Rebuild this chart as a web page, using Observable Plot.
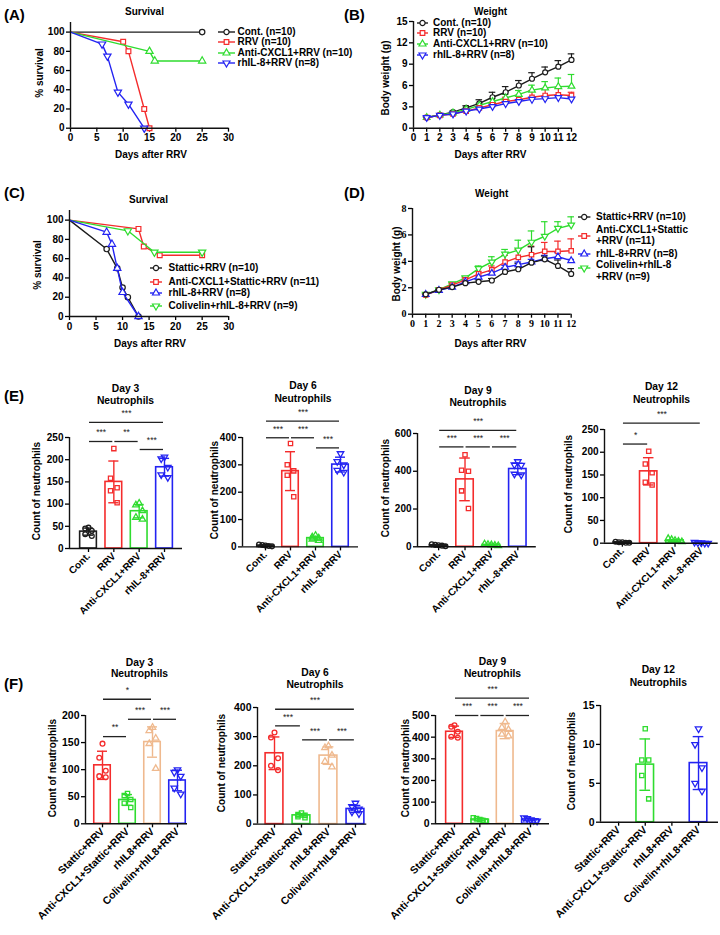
<!DOCTYPE html>
<html><head><meta charset="utf-8">
<script src="https://cdn.jsdelivr.net/npm/d3@7"></script>
<script src="https://cdn.jsdelivr.net/npm/@observablehq/plot@0.6"></script>
<style>
body{margin:0;background:#fff;}
#fig{position:relative;width:720px;height:935px;overflow:hidden;background:#fff;}
#fig svg [aria-label*="axis"] line, #fig svg [aria-label*="axis"] path{stroke-width:1.3px;}
</style></head><body><div id="fig"></div>
<script>
const FONT = '"Liberation Sans", Arial, sans-serif';
const SERIF = '"Liberation Serif", "Times New Roman", serif';
const BLACK = "#1c1c1c", RED = "#f42c2c", GREEN = "#2fdc2f", BLUE = "#2323f2", TAN = "#efb98e";

// ---------- Panel A : survival ----------
const survA_names = ["Cont. (n=10)", "RRV (n=10)", "Anti-CXCL1+RRV (n=10)", "rhIL-8+RRV (n=8)"];
const survA_cont_x = [0, 25],                 survA_cont_y = [100, 100];
const survA_rrv_x  = [0, 10, 11, 14, 15],     survA_rrv_y  = [100, 90, 80, 20, 0];
const survA_anti_x = [0, 15, 16, 25],         survA_anti_y = [100, 80, 70, 70];
const survA_rhil_x = [0, 6, 7, 9, 11, 14],    survA_rhil_y = [100, 87.5, 75, 37.5, 25, 0];
const survTicksX = [0, 5, 10, 15, 20, 25, 30];
const survTicksY = [0, 20, 40, 60, 80, 100];

// ---------- Panel B : weight ----------
const days = [1, 2, 3, 4, 5, 6, 7, 8, 9, 10, 11, 12];
const wB_cont = [1.5, 1.85, 2.25, 2.85, 3.5, 4.35, 5.05, 6.0, 6.95, 7.85, 8.65, 9.6];
const wB_cont_sd = [0.1, 0.1, 0.15, 0.3, 0.5, 0.7, 0.8, 0.7, 0.85, 0.75, 0.85, 0.85];
const wB_rrv = [1.5, 1.8, 2.0, 2.4, 2.85, 3.3, 3.75, 4.0, 4.35, 4.6, 4.7, 4.6];
const wB_rrv_sd = [0.1, 0.1, 0.1, 0.15, 0.2, 0.3, 0.6, 0.6, 0.9, 0.9, 0.95, 0.45];
const wB_anti = [1.5, 1.85, 2.15, 2.65, 3.2, 3.75, 4.25, 4.75, 5.35, 5.65, 5.85, 5.9];
const wB_anti_sd = [0.1, 0.1, 0.15, 0.2, 0.3, 0.4, 0.5, 0.55, 0.7, 0.9, 1.2, 1.65];
const wB_rhil = [1.5, 1.8, 2.0, 2.4, 2.7, 3.05, 3.45, 3.75, 4.05, 4.15, 4.3, 4.1];
const wB_rhil_sd = [0.1, 0.1, 0.1, 0.15, 0.2, 0.2, 0.25, 0.3, 0.3, 0.3, 0.3, 0.3];
const wB_ticksY = [0, 3, 6, 9, 12, 15];

// ---------- Panel C : survival ----------
const survC_names = ["Stattic+RRV (n=10)", "Anti-CXCL1+Stattic+RRV (n=11)", "rhIL-8+RRV (n=8)", "Colivelin+rhIL-8+RRV (n=9)"];
const survC_stat_x = [0, 7, 9, 10, 11, 13],  survC_stat_y = [100, 70, 50, 30, 20, 0];
const survC_anti_x = [0, 13, 14, 17, 25],    survC_anti_y = [100, 90.9, 72.7, 63.6, 63.6];
const survC_rhil_x = [0, 7, 8, 9, 10, 13],   survC_rhil_y = [100, 87.5, 75, 50, 25, 0];
const survC_coli_x = [0, 11, 16, 25],        survC_coli_y = [100, 88.9, 66.7, 66.7];

// ---------- Panel D : weight ----------
const wD_stat = [1.5, 1.85, 2.05, 2.35, 2.45, 2.55, 3.2, 3.4, 3.9, 4.15, 3.65, 3.05];
const wD_stat_sd = [0.05, 0.05, 0.1, 0.1, 0.15, 0.15, 0.3, 0.45, 1.2, 0.25, 0.45, 0.4];
const wD_anti = [1.45, 1.85, 2.2, 2.6, 3.05, 3.35, 3.95, 4.3, 4.5, 4.75, 4.75, 4.8];
const wD_anti_sd = [0.05, 0.05, 0.1, 0.15, 0.2, 0.3, 0.5, 0.6, 0.65, 0.68, 0.78, 0.9];
const wD_rhil = [1.5, 1.8, 2.05, 2.45, 2.8, 3.1, 3.55, 3.75, 3.95, 4.2, 4.35, 4.05];
const wD_rhil_sd = [0.05, 0.05, 0.05, 0.1, 0.1, 0.15, 0.15, 0.2, 0.2, 0.25, 0.3, 0.1];
const wD_coli = [1.5, 1.85, 2.3, 2.75, 3.45, 3.95, 4.55, 4.85, 5.45, 5.9, 6.5, 6.75];
const wD_coli_sd = [0.05, 0.05, 0.1, 0.1, 0.2, 0.4, 0.35, 0.75, 0.85, 1.1, 0.5, 0.62];
const wD_ticksY = [0, 2, 4, 6, 8];

// ---------- Panel E : neutrophils ----------
const catsE = ["Cont.", "RRV", "Anti-CXCL1+RRV", "rhIL-8+RRV"];
const e3_mean = [38, 150, 84, 183], e3_sd = [8, 47, 15, 20];
const e3_pts = [[47, 45, 40, 32, 28], [225, 158, 137, 130, 103], [102, 98, 85, 70, 66], [206, 202, 183, 166, 160]];
const e3_sig = [{a: 0, b: 3, y: 284, l: "***"}, {a: 0, b: 1, y: 241, l: "***"}, {a: 1, b: 2, y: 241, l: "**"}, {a: 2, b: 3, y: 223, l: "***"}];
const e6_mean = [5, 277, 32, 301], e6_sd = [3, 71, 7, 27];
const e6_pts = [[9, 7, 5, 3, 2], [378, 300, 278, 262, 183], [42, 36, 32, 28, 23], [341, 312, 300, 280, 273]];
const e6_sig = [{a: 0, b: 3, y: 460, l: "***"}, {a: 0, b: 1, y: 399, l: "***"}, {a: 1, b: 2, y: 399, l: "***"}, {a: 2, b: 3, y: 362, l: "***"}];
const e9_mean = [8, 357, 10, 412], e9_sd = [3, 113, 4, 30];
const e9_pts = [[13, 10, 8, 6, 3], [487, 405, 400, 296, 203], [15, 12, 10, 8, 5], [451, 434, 432, 385, 381]];
const e9_sig = [{a: 0, b: 3, y: 617, l: "***"}, {a: 0, b: 1, y: 529, l: "***"}, {a: 1, b: 2, y: 529, l: "***"}, {a: 2, b: 3, y: 529, l: "***"}];
const e12_mean = [2, 158, 6, 1], e12_sd = [1, 30, 2, 0.5];
const e12_pts = [[3, 2, 2, 1, 1], [202, 174, 155, 134, 128], [10, 8, 6, 4, 3], [2, 1, 1, 0, 0]];
const e12_sig = [{a: 0, b: 3, y: 264, l: "***"}, {a: 0, b: 1, y: 218, l: "*"}];

// ---------- Panel F : neutrophils ----------
const catsF = ["Stattic+RRV", "Anti-CXCL1+Stattic+RRV", "rhIL8+RRV", "Colivelin+rhIL8+RRV"];
const f3_mean = [108, 44, 151, 80], f3_sd = [26, 10, 28, 19];
const f3_pts = [[148, 122, 98, 88, 86], [56, 52, 45, 38, 30], [178, 172, 158, 148, 102], [100, 95, 88, 66, 55]];
const f3_sig = [{a: 0, b: 2, y: 230, l: "*"}, {a: 0, b: 1, y: 161, l: "**"}, {a: 1, b: 2, y: 193, l: "***"}, {a: 2, b: 3, y: 193, l: "***"}];
const f6_mean = [243, 30, 235, 52], f6_sd = [56, 6, 30, 12];
const f6_pts = [[314, 297, 226, 200, 185], [38, 33, 30, 25, 22], [268, 262, 236, 215, 196], [72, 60, 52, 42, 36]];
const f6_sig = [{a: 0, b: 3, y: 394, l: "***"}, {a: 0, b: 1, y: 337, l: "***"}, {a: 1, b: 2, y: 289, l: "***"}, {a: 2, b: 3, y: 289, l: "***"}];
const f9_mean = [425, 20, 428, 20], f9_sd = [26, 6, 35, 6];
const f9_pts = [[455, 448, 425, 402, 397], [28, 24, 20, 15, 12], [470, 445, 435, 413, 405], [28, 24, 18, 15, 13]];
const f9_sig = [{a: 0, b: 3, y: 580, l: "***"}, {a: 0, b: 1, y: 500, l: "***"}, {a: 1, b: 2, y: 500, l: "***"}, {a: 2, b: 3, y: 500, l: "***"}];
const f12_mean = [null, 7.4, null, 7.6], f12_sd = [null, 3.3, null, 3.4];
const f12_pts = [[], [12, 8, 8, 6, 3], [], [12, 10, 7, 5, 4]];
const f12_sig = [];

// ---------- helpers ----------
const fig = document.getElementById("fig");
const triangleDown = {
  draw(ctx, size) {
    const y = -Math.sqrt(size / (Math.sqrt(3) * 3)), s3 = Math.sqrt(3);
    ctx.moveTo(0, -y * 2); ctx.lineTo(-s3 * y, y); ctx.lineTo(s3 * y, y); ctx.closePath();
  }
};
const SYM = {circle: "circle", square: "square", triangle: "triangle", triangleDown};
const D3SYM = {circle: d3.symbolCircle, square: d3.symbolSquare, triangle: d3.symbolTriangle, triangleDown};

function addText(str, x, y, o = {}) {
  const d = document.createElement("div");
  d.textContent = str;
  const size = o.size || 10, weight = o.weight || "bold", family = o.family || FONT;
  d.style.cssText = `position:absolute;left:${x}px;top:${y}px;font-family:${family};font-weight:${weight};font-size:${size}px;white-space:nowrap;line-height:1;color:#000;`;
  const tx = o.anchor === "start" ? "0" : o.anchor === "end" ? "-100%" : "-50%";
  d.style.transform = o.rotate ? "translate(-50%,-50%) rotate(-90deg)" : `translate(${tx},-50%)`;
  fig.appendChild(d);
}

function plotAt(f, opts, marks) {
  const ml = 40, mr = 20, mt = 50, mb = 115;
  const w = ml + (f.x1 - f.x0) + mr, h = mt + (f.y1 - f.y0) + mb;
  const svg = Plot.plot({
    width: w, height: h, marginLeft: ml, marginRight: mr, marginTop: mt, marginBottom: mb,
    x: opts.x, y: opts.y, color: {type: "identity"},
    style: {background: "transparent", overflow: "visible", fontFamily: opts.family || FONT,
            fontWeight: "bold", fontSize: (opts.fontSize || 10) + "px", color: "#000"},
    marks
  });
  svg.style.position = "absolute";
  svg.style.left = (f.x0 - ml) + "px";
  svg.style.top = (f.y0 - mt) + "px";
  svg.style.maxWidth = "none";
  fig.appendChild(svg);
}

function linePanel(f, o) {
  const marks = [];
  o.series.forEach(s => {
    if (!s.e) return;
    const data = s.x.map((x, i) => ({x, y: s.y[i], e: s.e[i]}));
    marks.push(Plot.ruleX(data, {x: "x", y1: "y", y2: d => d.y + d.e, stroke: s.color, strokeWidth: 1.2}));
    marks.push(Plot.ruleY(data, {x1: d => d.x - o.cap, x2: d => d.x + o.cap, y: d => d.y + d.e, stroke: s.color, strokeWidth: 1.2}));
  });
  o.series.forEach(s => {
    const data = s.x.map((x, i) => ({x, y: s.y[i]}));
    marks.push(Plot.line(data, {x: "x", y: "y", stroke: s.color, strokeWidth: 1.4}));
    marks.push(Plot.dot(data.filter(d => !(o.skipZero && d.x === 0)),
      {x: "x", y: "y", symbol: SYM[s.sym], r: o.r || 2.6, stroke: s.color, fill: "white", strokeWidth: 1.2}));
  });
  marks.push(Plot.ruleX([o.xd[0]], {stroke: "#111", strokeWidth: 1.4}));
  marks.push(Plot.ruleY([o.yd[0]], {stroke: "#111", strokeWidth: 1.4}));
  plotAt(f, {
    family: o.family,
    fontSize: o.fontSize,
    x: {domain: o.xd, ticks: o.xticks, tickSize: 4, tickPadding: 2, label: null},
    y: {domain: o.yd, ticks: o.yticks, tickSize: 4, tickPadding: 2, label: null}
  }, marks);
}

function barPanel(f, o) {
  const n = o.cats.length;
  const bars = o.mean.map((m, i) => ({i, m, sd: o.sd[i], c: o.colors[i]})).filter(d => d.m != null);
  const ymax = o.yd[1];
  const marks = [];
  marks.push(Plot.rect(bars, {x1: d => d.i - 0.33, x2: d => d.i + 0.33, y1: () => 0, y2: "m", fill: "white", stroke: "c", strokeWidth: 1.6}));
  marks.push(Plot.ruleX(bars, {x: "i", y1: d => Math.max(0, d.m - d.sd), y2: d => d.m + d.sd, stroke: "c", strokeWidth: 1.4}));
  const caps = bars.flatMap(d => [{i: d.i, c: d.c, y: d.m + d.sd}, {i: d.i, c: d.c, y: Math.max(0, d.m - d.sd)}]);
  marks.push(Plot.ruleY(caps, {x1: d => d.i - 0.2, x2: d => d.i + 0.2, y: "y", stroke: "c", strokeWidth: 1.4}));
  o.pts.forEach((arr, i) => {
    if (!arr.length) return;
    const small = Math.max(...arr) < ymax * 0.07;
    const pattern = [0, -0.13, 0.13, -0.13, 0.13];
    const data = arr.map((v, k) => ({x: i + (small ? (k - (arr.length - 1) / 2) * 0.13 : pattern[k % 5]), v}));
    marks.push(Plot.dot(data, {x: "x", y: "v", symbol: SYM[o.syms[i]], r: 2.4, stroke: o.colors[i], fill: "none", strokeWidth: 1.3}));
  });
  marks.push(Plot.ruleX([o.xd[0]], {stroke: "#111", strokeWidth: 1.4}));
  marks.push(Plot.ruleY([0], {stroke: "#111", strokeWidth: 1.4}));
  marks.push(Plot.ruleY(o.sig, {x1: d => d.a + 0.04, x2: d => d.b - 0.04, y: "y", stroke: "#222", strokeWidth: 1.3}));
  marks.push(Plot.text(o.sig, {x: d => (d.a + d.b) / 2, y: "y", text: "l", dy: -9, fontSize: 8.5, fontWeight: "normal", fill: "#222"}));
  plotAt(f, {
    fontSize: o.fontSize || 10,
    x: {domain: o.xd, ticks: d3.range(n), tickFormat: i => o.cats[i], tickRotate: -45, tickSize: 4, tickPadding: 2, label: null},
    y: {domain: o.yd, ticks: o.yticks, tickSize: 4, tickPadding: 2, label: null}
  }, marks);
}

function legend(items, lx0, lx1, tx, size) {
  items.forEach(it => {
    const s = document.createElementNS("http://www.w3.org/2000/svg", "svg");
    const w = lx1 - lx0 + 8;
    s.setAttribute("width", w); s.setAttribute("height", 12);
    s.style.cssText = `position:absolute;left:${lx0 - 4}px;top:${it.y - 6}px;overflow:visible;`;
    const ln = document.createElementNS(s.namespaceURI, "line");
    ln.setAttribute("x1", 4); ln.setAttribute("x2", w - 4); ln.setAttribute("y1", 6); ln.setAttribute("y2", 6);
    ln.setAttribute("stroke", it.color); ln.setAttribute("stroke-width", 1.4);
    s.appendChild(ln);
    const p = document.createElementNS(s.namespaceURI, "path");
    p.setAttribute("d", d3.symbol(D3SYM[it.sym], 2.6 * 2.6 * Math.PI)());
    p.setAttribute("transform", `translate(${w / 2},6)`);
    p.setAttribute("fill", "white"); p.setAttribute("stroke", it.color); p.setAttribute("stroke-width", 1.2);
    s.appendChild(p);
    fig.appendChild(s);
    it.text.forEach((t, k) => addText(t, tx, it.ty[k], {anchor: "start", size}));
  });
}

// ---------- Panel A ----------
addText("(A)", 4, 14, {anchor: "start", size: 15});
addText("Survival", 144.5, 12, {size: 10});
linePanel({x0: 70, x1: 228, y0: 22, y1: 127.7}, {
  xd: [0, 30], yd: [0, 110], xticks: survTicksX, yticks: survTicksY, skipZero: true, r: 2.7,
  series: [
    {x: survA_cont_x, y: survA_cont_y, color: BLACK, sym: "circle"},
    {x: survA_rrv_x, y: survA_rrv_y, color: RED, sym: "square"},
    {x: survA_anti_x, y: survA_anti_y, color: GREEN, sym: "triangle"},
    {x: survA_rhil_x, y: survA_rhil_y, color: BLUE, sym: "triangleDown"}
  ]
});
addText("% survival", 40, 73, {rotate: true, size: 10});
addText("Days after RRV", 151, 155, {size: 10});
legend([
  {y: 31.7, color: BLACK, sym: "circle", text: [survA_names[0]], ty: [31.7]},
  {y: 42.3, color: RED, sym: "square", text: [survA_names[1]], ty: [42.3]},
  {y: 53.3, color: GREEN, sym: "triangle", text: [survA_names[2]], ty: [53.3]},
  {y: 63.3, color: BLUE, sym: "triangleDown", text: [survA_names[3]], ty: [63.3]}
], 218, 235, 237.5, 10);

// ---------- Panel B ----------
addText("(B)", 344, 14, {anchor: "start", size: 15});
addText("Weight", 490.5, 12, {size: 10});
linePanel({x0: 413, x1: 571, y0: 21, y1: 127.7}, {
  xd: [0, 12], yd: [0, 15], xticks: d3.range(0, 13), yticks: wB_ticksY, cap: 0.25, r: 2.5,
  series: [
    {x: days, y: wB_cont, e: wB_cont_sd, color: BLACK, sym: "circle"},
    {x: days, y: wB_anti, e: wB_anti_sd, color: GREEN, sym: "triangle"},
    {x: days, y: wB_rrv, e: wB_rrv_sd, color: RED, sym: "square"},
    {x: days, y: wB_rhil, e: wB_rhil_sd, color: BLUE, sym: "triangleDown"}
  ]
});
addText("Body weight (g)", 386, 78, {rotate: true, size: 10});
addText("Days after RRV", 490.5, 155, {size: 10});
legend([
  {y: 22.7, color: BLACK, sym: "circle", text: [survA_names[0]], ty: [22.7]},
  {y: 33.3, color: RED, sym: "square", text: [survA_names[1]], ty: [33.3]},
  {y: 44, color: GREEN, sym: "triangle", text: [survA_names[2]], ty: [44]},
  {y: 55, color: BLUE, sym: "triangleDown", text: [survA_names[3]], ty: [55]}
], 417, 428, 433, 10);

// ---------- Panel C ----------
addText("(C)", 4, 192, {anchor: "start", size: 15});
addText("Survival", 148.5, 200, {size: 10});
linePanel({x0: 68.5, x1: 227.7, y0: 209.7, y1: 315.7}, {
  xd: [0, 30], yd: [0, 110], xticks: survTicksX, yticks: survTicksY, skipZero: true, r: 2.7,
  series: [
    {x: survC_anti_x, y: survC_anti_y, color: RED, sym: "square"},
    {x: survC_coli_x, y: survC_coli_y, color: GREEN, sym: "triangleDown"},
    {x: survC_stat_x, y: survC_stat_y, color: BLACK, sym: "circle"},
    {x: survC_rhil_x, y: survC_rhil_y, color: BLUE, sym: "triangle"}
  ]
});
addText("% survival", 37.5, 265, {rotate: true, size: 10});
addText("Days after RRV", 150, 344, {size: 10});
legend([
  {y: 268.3, color: BLACK, sym: "circle", text: [survC_names[0]], ty: [268.3]},
  {y: 281.7, color: RED, sym: "square", text: [survC_names[1]], ty: [281.7]},
  {y: 293.3, color: BLUE, sym: "triangle", text: [survC_names[2]], ty: [293.3]},
  {y: 305.7, color: GREEN, sym: "triangleDown", text: [survC_names[3]], ty: [305.7]}
], 150, 162, 168.5, 10);

// ---------- Panel D ----------
addText("(D)", 344, 192, {anchor: "start", size: 15});
addText("Weight", 491.7, 194.3, {size: 10});
linePanel({x0: 412.3, x1: 571, y0: 208.3, y1: 314}, {
  xd: [0, 12], yd: [0, 8], xticks: d3.range(0, 13), yticks: wD_ticksY, cap: 0.25, r: 2.5,
  family: SERIF, fontSize: 10,
  series: [
    {x: days, y: wD_coli, e: wD_coli_sd, color: GREEN, sym: "triangleDown"},
    {x: days, y: wD_anti, e: wD_anti_sd, color: RED, sym: "square"},
    {x: days, y: wD_rhil, e: wD_rhil_sd, color: BLUE, sym: "triangle"},
    {x: days, y: wD_stat, e: wD_stat_sd, color: BLACK, sym: "circle"}
  ]
});
addText("Body weight (g)", 397, 264, {rotate: true, size: 10});
addText("Days after RRV", 490.5, 344, {size: 10});
legend([
  {y: 216.7, color: BLACK, sym: "circle", text: ["Stattic+RRV (n=10)"], ty: [216.7]},
  {y: 235.7, color: RED, sym: "square", text: ["Anti-CXCL1+Stattic", "+RRV (n=11)"], ty: [230, 240.7]},
  {y: 254, color: BLUE, sym: "triangle", text: ["rhIL-8+RRV (n=8)"], ty: [254]},
  {y: 268.3, color: GREEN, sym: "triangleDown", text: ["Colivelin+rhIL-8", "+RRV (n=9)"], ty: [265, 277.3]}
], 578.3, 590.7, 596, 10);

// ---------- Panel E ----------
addText("(E)", 4, 395, {anchor: "start", size: 15});
const colE = [BLACK, RED, GREEN, BLUE], symE = ["circle", "square", "triangle", "triangleDown"];
const colF = [RED, GREEN, TAN, BLUE], symF = ["circle", "square", "triangle", "triangleDown"];

const Epanels = [
  {f: {x0: 69, x1: 182, y0: 437, y1: 548}, xd: [-0.75, 3.71], yd: [0, 250], yt: [0, 50, 100, 150, 200, 250], mean: e3_mean, sd: e3_sd, pts: e3_pts, sig: e3_sig,
   t: ["Day 3", 125.5, 389, 401], yl: [37.3, 491]},
  {f: {x0: 242, x1: 358, y0: 437.3, y1: 546.7}, xd: [-0.92, 3.72], yd: [0, 400], yt: [0, 100, 200, 300, 400], mean: e6_mean, sd: e6_sd, pts: e6_pts, sig: e6_sig,
   t: ["Day 6", 303, 386, 399.3], yl: [215, 489.7]},
  {f: {x0: 416.7, x1: 535.5, y0: 432.7, y1: 546}, xd: [-0.8, 3.7], yd: [0, 600], yt: [0, 200, 400, 600], mean: e9_mean, sd: e9_sd, pts: e9_pts, sig: e9_sig,
   t: ["Day 9", 478, 390.7, 403.3], yl: [386, 488]},
  {f: {x0: 604.3, x1: 718, y0: 429, y1: 542.7}, xd: [-0.68, 3.64], yd: [0, 250], yt: [0, 50, 100, 150, 200, 250], mean: e12_mean, sd: e12_sd, pts: e12_pts, sig: e12_sig,
   t: ["Day 12", 661.5, 386.7, 400], yl: [569, 484]}
];
Epanels.forEach(p => {
  barPanel(p.f, {cats: catsE, colors: colE, syms: symE, xd: p.xd, yd: p.yd, yticks: p.yt, mean: p.mean, sd: p.sd, pts: p.pts, sig: p.sig, fontSize: 10});
  addText(p.t[0], p.t[1], p.t[2], {size: 10.3});
  addText("Neutrophils", p.t[1], p.t[3], {size: 10.3});
  addText("Count of  neutrophils", p.yl[0], p.yl[1], {rotate: true, size: 10});
});

// ---------- Panel F ----------
addText("(F)", 4, 683, {anchor: "start", size: 15});
const Fpanels = [
  {f: {x0: 85, x1: 187, y0: 715, y1: 823.3}, xd: [-0.68, 3.4], yd: [0, 200], yt: [0, 50, 100, 150, 200], mean: f3_mean, sd: f3_sd, pts: f3_pts, sig: f3_sig,
   t: ["Day 3", 139.5, 662.7, 674.3], yl: [53.3, 768]},
  {f: {x0: 256.7, x1: 366, y0: 706.7, y1: 823.3}, xd: [-0.63, 3.42], yd: [0, 400], yt: [0, 100, 200, 300, 400], mean: f6_mean, sd: f6_sd, pts: f6_pts, sig: f6_sig,
   t: ["Day 6", 315, 672.7, 685], yl: [222.3, 763]},
  {f: {x0: 435, x1: 549, y0: 715, y1: 823.3}, xd: [-0.75, 3.75], yd: [0, 500], yt: [0, 100, 200, 300, 400, 500], mean: f9_mean, sd: f9_sd, pts: f9_pts, sig: f9_sig,
   t: ["Day 9", 492.5, 661.7, 674], yl: [405.7, 768]},
  {f: {x0: 600, x1: 718, y0: 705, y1: 821.7}, xd: [-0.68, 3.75], yd: [0, 15], yt: [0, 5, 10, 15], mean: f12_mean, sd: f12_sd, pts: f12_pts, sig: f12_sig,
   t: ["Day 12", 658.3, 670, 682.7], yl: [571.7, 761]}
];
Fpanels.forEach(p => {
  barPanel(p.f, {cats: catsF, colors: colF, syms: symF, xd: p.xd, yd: p.yd, yticks: p.yt, mean: p.mean, sd: p.sd, pts: p.pts, sig: p.sig, fontSize: 10.5});
  addText(p.t[0], p.t[1], p.t[2], {size: 10.3});
  addText("Neutrophils", p.t[1], p.t[3], {size: 10.3});
  addText("Count of  neutrophils", p.yl[0], p.yl[1], {rotate: true, size: 10});
});
</script></body></html>
